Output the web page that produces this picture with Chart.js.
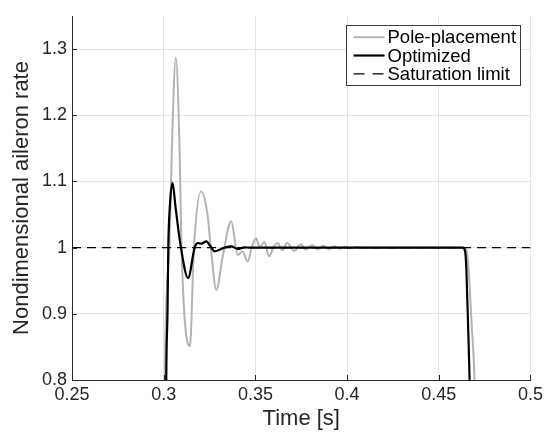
<!DOCTYPE html>
<html>
<head>
<meta charset="utf-8">
<script src="https://cdn.jsdelivr.net/npm/chart.js@4.4.1/dist/chart.umd.min.js"></script>
<style>
  html, body { margin: 0; padding: 0; background: #fff; }
  #wrap { width: 547px; height: 434px; }
</style>
</head>
<body>
<div id="wrap"><canvas id="chart" width="547" height="434"></canvas></div>
<script>
const xTicks = [0.25, 0.3, 0.35, 0.4, 0.45, 0.5];
const xTickLabels = ['0.25', '0.3', '0.35', '0.4', '0.45', '0.5'];
const yTicks = [0.8, 0.9, 1, 1.1, 1.2, 1.3];
const yTickLabels = ['0.8', '0.9', '1', '1.1', '1.2', '1.3'];

// pole-placement controller (grey)
const poleTime = [0.2500, 0.2990, 0.3006, 0.3031, 0.3043, 0.3066, 0.3088, 0.3097, 0.3143, 0.3165,
  0.3203, 0.3238, 0.3257, 0.3287, 0.3322, 0.3368, 0.3404, 0.3430, 0.3458, 0.3480,
  0.3503, 0.3525, 0.3548, 0.3575, 0.3598, 0.3622, 0.3647, 0.3674, 0.3711, 0.3747,
  0.3774, 0.3810, 0.3840, 0.3870, 0.3900, 0.3930, 0.3960, 0.3990, 0.4020, 0.4050,
  0.4080, 0.4637, 0.4652, 0.4662, 0.4680, 0.4695, 0.4710];
const poleRate = [0, 0, 0.80, 1.00, 1.133, 1.287, 1.133, 1.00, 0.851, 1.00,
  1.085, 1.052, 1.00, 0.936, 0.987, 1.040, 0.989, 0.994, 0.979, 1.00,
  1.014, 1.000, 1.009, 0.987, 1.000, 1.007, 0.996, 1.007, 0.995, 1.005,
  0.997, 1.004, 0.9975, 1.003, 0.998, 1.002, 0.9985, 1.0015, 0.999, 1.001,
  1.000, 1.000, 0.995, 0.970, 0.880, 0.800, 0.600];

// optimized controller (black)
const optTime = [0.2500, 0.3000, 0.3014, 0.3021, 0.3025, 0.3033, 0.3048, 0.3065, 0.3094, 0.3133,
  0.3169, 0.3187, 0.3205, 0.3232, 0.3255, 0.3277, 0.3332, 0.3368, 0.3404, 0.3440,
  0.3470, 0.4630, 0.4643, 0.4650, 0.4660, 0.4668, 0.4680];
const optRate = [0, 0, 0.80, 0.906, 1.00, 1.06, 1.098, 1.06, 1.00, 0.954,
  1.00, 1.007, 1.006, 1.0095, 1.002, 0.9945, 1.00, 1.002, 0.998, 1.0005,
  1.00, 1.00, 0.995, 0.970, 0.880, 0.800, 0.600];

const satTime = [0.25, 0.5];
const satRate = [1, 1];

function pairs(xs, ys) {
  return xs.map((x, i) => ({ x: x, y: ys[i] }));
}

const FONT = "'Liberation Sans', Arial, Helvetica, sans-serif";
const INK = '#262626';

// MATLAB style inward ticks + boxed legend
const matlabAxes = {
  id: 'matlabAxes',
  afterDraw(chart) {
    const ctx = chart.ctx;
    const a = chart.chartArea;
    const xs = chart.scales.x, ys = chart.scales.y;
    ctx.save();
    ctx.strokeStyle = INK;
    ctx.lineWidth = 1;
    ctx.beginPath();
    xTicks.forEach(v => {
      const px = Math.round(xs.getPixelForValue(v)) + 0.5;
      ctx.moveTo(px, a.bottom);
      ctx.lineTo(px, a.bottom - 5);
    });
    yTicks.forEach(v => {
      const py = Math.round(ys.getPixelForValue(v)) + 0.5;
      ctx.moveTo(a.left, py);
      ctx.lineTo(a.left + 5, py);
    });
    ctx.stroke();

    // legend
    const bw = 174, bh = 60;
    const bx = Math.round(a.right - 10 - bw) + 0.5;
    const by = Math.round(a.top + 9) + 0.5;
    ctx.fillStyle = '#fff';
    ctx.fillRect(bx, by, bw, bh);
    ctx.strokeStyle = '#3a3a3a';
    ctx.lineWidth = 1;
    ctx.strokeRect(bx, by, bw, bh);
    ctx.font = '18.5px ' + FONT;
    ctx.textBaseline = 'middle';
    ctx.textAlign = 'left';
    const rows = [11.7, 30, 48.3];
    chart.data.datasets.forEach((ds, i) => {
      const y = by + rows[i];
      ctx.save();
      ctx.strokeStyle = ds.borderColor;
      ctx.lineWidth = ds.borderWidth;
      ctx.setLineDash(ds.borderDash ? [11, 8] : []);
      ctx.beginPath();
      ctx.moveTo(bx + 7, y);
      ctx.lineTo(bx + 38, y);
      ctx.stroke();
      ctx.restore();
      ctx.fillStyle = '#000';
      ctx.fillText(ds.label, bx + 41, y + 1);
    });
    ctx.restore();
  }
};

new Chart(document.getElementById('chart'), {
  type: 'line',
  data: {
    datasets: [
      {
        label: 'Pole-placement',
        data: pairs(poleTime, poleRate),
        borderColor: '#b3b3b3',
        borderWidth: 2,
        cubicInterpolationMode: 'monotone',
        pointRadius: 0,
        order: 3
      },
      {
        label: 'Optimized',
        data: pairs(optTime, optRate),
        borderColor: '#000000',
        borderWidth: 2.2,
        cubicInterpolationMode: 'monotone',
        pointRadius: 0,
        order: 2
      },
      {
        label: 'Saturation limit',
        data: pairs(satTime, satRate),
        borderColor: '#000000',
        borderWidth: 1.3,
        borderDash: [9, 6],
        pointRadius: 0,
        order: 1
      }
    ]
  },
  options: {
    responsive: false,
    devicePixelRatio: 1,
    animation: false,
    layout: { padding: { top: 16, right: 14, left: 0, bottom: 0 } },
    plugins: {
      legend: { display: false },
      tooltip: { enabled: false }
    },
    scales: {
      x: {
        type: 'linear',
        min: 0.25,
        max: 0.5,
        afterBuildTicks: s => { s.ticks = xTicks.map(v => ({ value: v })); },
        afterFit: s => { s.height = 54; },
        ticks: {
          callback: (v, i) => xTickLabels[i],
          font: { family: FONT, size: 18 },
          color: INK,
          padding: 4,
          maxRotation: 0
        },
        grid: { color: '#e4e4e4', lineWidth: 1, drawTicks: false },
        border: { display: true, color: INK, width: 1 },
        title: {
          display: true,
          text: 'Time [s]',
          font: { family: FONT, size: 22 },
          color: INK,
          padding: { top: 0, bottom: 2 }
        }
      },
      y: {
        min: 0.8,
        max: 1.35,
        afterBuildTicks: s => { s.ticks = yTicks.map(v => ({ value: v })); },
        afterFit: s => { s.width = 72; },
        ticks: {
          callback: (v, i) => yTickLabels[i],
          font: { family: FONT, size: 18 },
          color: INK,
          padding: 5
        },
        grid: { color: '#e4e4e4', lineWidth: 1, drawTicks: false },
        border: { display: true, color: INK, width: 1 },
        title: {
          display: true,
          text: 'Nondimensional aileron rate',
          font: { family: FONT, size: 22 },
          color: INK,
          padding: { top: 9, bottom: 0 }
        }
      }
    }
  },
  plugins: [matlabAxes]
});
</script>
</body>
</html>
